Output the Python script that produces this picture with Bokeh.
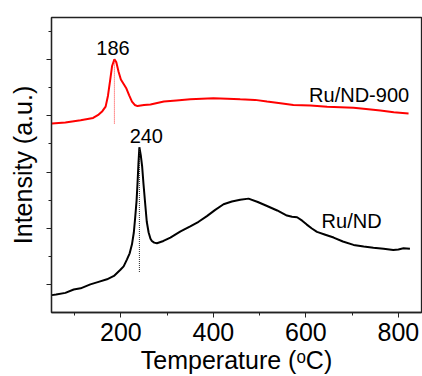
from bokeh.plotting import figure
from bokeh.models import FixedTicker, Range1d, Label, CustomJSTickFormatter
from bokeh.embed import file_html
from bokeh.resources import INLINE

# Ru/ND (black) TPR curve: temperature (°C), intensity (a.u.)
ru_nd_t = [51, 60, 80, 98, 113, 134, 150, 170, 185, 199, 206, 213, 219, 224, 228, 231, 234, 236, 238, 240,
           243, 246, 249, 253, 256, 260, 264, 267, 272, 278, 292, 307, 329, 350, 368, 386, 404, 422, 440,
           458, 476, 496, 516, 538, 559, 570, 581, 592, 602, 613, 624, 642, 660, 680, 703, 725, 746, 768,
           789, 800, 811, 825]
ru_nd_i = [0.82, 0.83, 0.86, 0.92, 0.94, 1.01, 1.05, 1.10, 1.16, 1.27, 1.33, 1.45, 1.56, 1.72, 1.93, 2.20,
           2.50, 2.80, 3.15, 3.44, 3.30, 3.10, 2.78, 2.40, 2.12, 1.93, 1.82, 1.78, 1.75, 1.74, 1.78, 1.84,
           1.95, 2.04, 2.12, 2.22, 2.33, 2.43, 2.48, 2.51, 2.53, 2.47, 2.40, 2.32, 2.23, 2.21, 2.20, 2.14,
           2.07, 2.00, 1.94, 1.89, 1.84, 1.77, 1.71, 1.68, 1.66, 1.64, 1.62, 1.63, 1.65, 1.64]

# Ru/ND-900 (red) TPR curve
ru900_t = [51, 80, 113, 140, 152, 160, 167, 172, 177, 181, 186, 190, 195, 200, 206, 212, 218, 224, 230,
           236, 250, 264, 293, 320, 350, 400, 430, 458, 490, 516, 545, 573, 610, 646, 703, 730, 761, 790, 822]
ru900_i = [3.86, 3.88, 3.92, 3.96, 4.02, 4.08, 4.16, 4.35, 4.64, 4.88, 5.00, 4.95, 4.78, 4.64, 4.56, 4.48,
           4.36, 4.25, 4.19, 4.17, 4.19, 4.20, 4.25, 4.27, 4.29, 4.31, 4.30, 4.29, 4.28, 4.25, 4.22, 4.19,
           4.18, 4.16, 4.14, 4.12, 4.09, 4.06, 4.04]

# Peak markers
peak_t = [186, 240]
peak_top = [5.00, 3.44]
peak_bottom = [3.86, 1.23]
peak_labels = ["186", "240"]

x_major = [200, 400, 600, 800]
x_minor = [100, 300, 500, 700]
y_major = [1, 2, 3, 4, 5]
y_minor = [0.5, 1.5, 2.5, 3.5, 4.5, 5.5]

FONT = "Liberation Sans"

p = figure(width=422, height=376, output_backend="svg", toolbar_location=None,
           x_range=Range1d(50, 850), y_range=Range1d(0.512, 5.74),
           min_border_left=51, min_border_right=1, min_border_top=17, min_border_bottom=63)

p.grid.visible = False
p.outline_line_color = "#222222"
p.outline_line_width = 1.3
p.background_fill_color = "white"
p.border_fill_color = "white"

# curves
p.line(ru900_t, ru900_i, line_color="#ff0000", line_width=2)
p.line(ru_nd_t, ru_nd_i, line_color="black", line_width=2)

# dotted peak lines
p.segment(x0=[peak_t[0]], y0=[peak_bottom[0]], x1=[peak_t[0]], y1=[peak_top[0]],
          line_color="#ff3333", line_width=1, line_dash="1 1")
p.segment(x0=[peak_t[1]], y0=[peak_bottom[1]], x1=[peak_t[1]], y1=[peak_top[1]],
          line_color="#222222", line_width=1, line_dash="1 1")

# annotations
p.add_layout(Label(x=183, y=5.20, text=peak_labels[0], text_align="center", text_baseline="alphabetic",
                   text_font=FONT, text_font_size="20px", text_color="black"))
p.add_layout(Label(x=255, y=3.635, text=peak_labels[1], text_align="center", text_baseline="alphabetic",
                   text_font=FONT, text_font_size="20px", text_color="black"))
p.add_layout(Label(x=607, y=4.36, text="Ru/ND-900", text_align="left", text_baseline="alphabetic",
                   text_font=FONT, text_font_size="20px", text_color="black"))
p.add_layout(Label(x=634, y=2.13, text="Ru/ND", text_align="left", text_baseline="alphabetic",
                   text_font=FONT, text_font_size="20px", text_color="black"))

# axes
xa = p.xaxis[0]
xa.ticker = FixedTicker(ticks=x_major, minor_ticks=x_minor)
xa.axis_label = "Temperature (ᵒC)"
xa.axis_label_text_font = FONT
xa.axis_label_text_font_size = "25px"
xa.axis_label_text_font_style = "normal"
xa.axis_label_text_line_height = 1.0
xa.axis_label_standoff = 2
xa.major_label_text_font = FONT
xa.major_label_text_font_size = "25px"
xa.major_label_text_line_height = 1.0
xa.major_label_standoff = 5

ya = p.yaxis[0]
ya.ticker = FixedTicker(ticks=y_major, minor_ticks=y_minor)
ya.formatter = CustomJSTickFormatter(code="return ''")
ya.axis_label = "Intensity (a.u.)"
ya.axis_label_text_font = FONT
ya.axis_label_text_font_size = "25px"
ya.axis_label_text_font_style = "normal"
ya.axis_label_standoff = 10
ya.major_label_standoff = 0

for ax in (xa, ya):
    ax.axis_line_color = "#222222"
    ax.axis_line_width = 1.3
    ax.major_tick_line_color = "#222222"
    ax.minor_tick_line_color = "#222222"
    ax.major_tick_in = 0
    ax.major_tick_out = 5
    ax.minor_tick_in = 0
    ax.minor_tick_out = 3
    ax.major_label_text_color = "black"
    ax.axis_label_text_color = "black"

open("out.html", "w").write(file_html(p, INLINE))
